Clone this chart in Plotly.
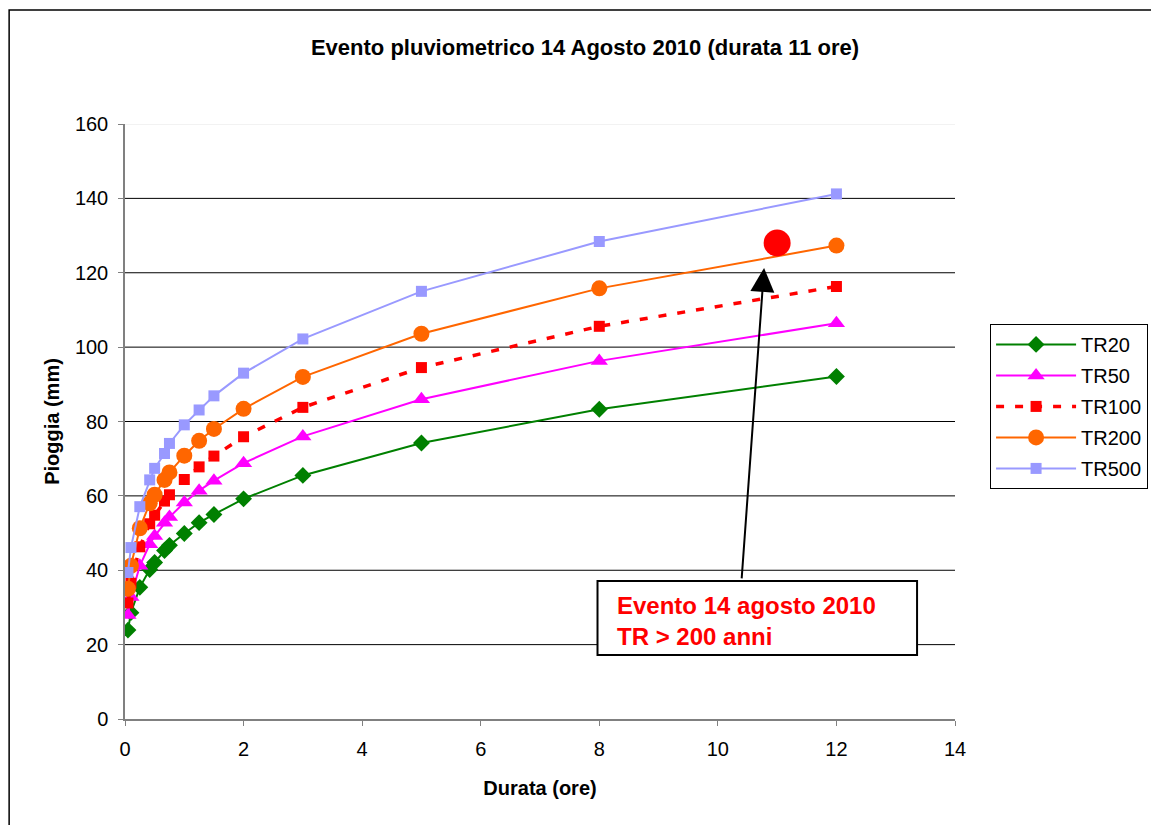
import plotly.graph_objects as go

# ---- data ----
durata = [0.05, 0.1, 0.25, 0.4167, 0.5, 0.6667, 0.75, 1, 1.25, 1.5, 2, 3, 5, 8, 12]
tr20 = [23.9, 28.6, 35.4, 40.2, 42.1, 45.3, 46.7, 49.9, 52.8, 55.0, 59.2, 65.5, 74.2, 83.3, 92.1]
tr50 = [28.0, 32.8, 41.2, 47.0, 49.2, 52.8, 54.3, 58.2, 61.4, 64.1, 68.8, 76.0, 86.0, 96.3, 106.4]
tr100 = [31.2, 36.5, 46.3, 52.5, 54.8, 58.6, 60.3, 64.4, 67.8, 70.7, 75.9, 83.8, 94.5, 105.6, 116.3]
tr200 = [35.0, 41.2, 51.3, 58.0, 60.3, 64.3, 66.3, 70.8, 74.8, 78.0, 83.4, 92.0, 103.6, 115.8, 127.3]
tr500 = [39.4, 46.1, 57.1, 64.3, 67.4, 71.4, 74.1, 79.1, 83.1, 86.9, 93.0, 102.2, 115.0, 128.4, 141.2]
evento_x = [11]
evento_y = [128]
y_ticks = [0, 20, 40, 60, 80, 100, 120, 140, 160]
x_ticks = [0, 2, 4, 6, 8, 10, 12, 14]

FONT = "Liberation Sans, Arial, sans-serif"

fig = go.Figure()

series = [
    ("TR20", tr20, "#008000", "solid", 2, "diamond", 13),
    ("TR50", tr50, "#FF00FF", "solid", 2, "triangle-up", 15),
    ("TR100", tr100, "#FF0000", "8px,11px", 3.5, "square", 11),
    ("TR200", tr200, "#FF6600", "solid", 2, "circle", 16),
    ("TR500", tr500, "#9999FF", "solid", 2, "square", 11),
]
for i, (name, vals, col, dash, lw, sym, ms) in enumerate(series):
    fig.add_trace(go.Scatter(
        x=durata, y=vals, name=name, mode="lines+markers", legendgroup="g%d" % i,
        line=dict(color=col, width=lw, dash=dash),
        marker=dict(symbol=sym, size=ms, color=col),
    ))

fig.add_trace(go.Scatter(
    x=evento_x, y=evento_y, mode="markers", showlegend=False,
    marker=dict(symbol="circle", size=27, color="#FF0000"),
))

shapes = []
for v in y_ticks[1:]:
    shapes.append(dict(type="line", xref="paper", x0=0, x1=1, yref="y", y0=v, y1=v,
                       line=dict(color="#000000" if v < 160 else "#E6E6E6", width=1),
                       layer="below"))
# annotation box
shapes.append(dict(type="rect", xref="x", yref="y", x0=7.97, x1=13.36, y0=17.2, y1=37.1,
                   fillcolor="white", line=dict(color="black", width=2), layer="above"))
# outer chart frame
shapes.append(dict(type="rect", xref="paper", yref="paper", x0=-0.1396, x1=1.27, y0=-0.22, y1=1.1916,
                   line=dict(color="black", width=1.5), fillcolor="rgba(0,0,0,0)", layer="below"))

fig.update_layout(
    width=1151, height=817,
    margin=dict(l=117, r=203, t=116, b=106),
    paper_bgcolor="white", plot_bgcolor="white",
    font=dict(family=FONT, size=20, color="black"),
    title=dict(text="<b>Evento pluviometrico 14 Agosto 2010 (durata 11 ore)</b>",
               x=577 / 1151, xanchor="center", y=1 - 39 / 817, yanchor="middle",
               font=dict(size=22)),
    shapes=shapes,
    showlegend=True,
    legend=dict(x=1.041, y=0.664, xanchor="left", yanchor="top",
                bordercolor="black", borderwidth=1, bgcolor="white",
                font=dict(size=20), itemwidth=80, tracegroupgap=2),
    xaxis=dict(range=[0, 14], tickvals=x_ticks, ticktext=[str(t) for t in x_ticks],
               showgrid=False, zeroline=False, showline=True, linecolor="#808080", linewidth=1.5,
               ticks="outside", ticklen=5, tickcolor="#808080", ticklabelstandoff=6,
               title=dict(text="<b>Durata (ore)</b>", standoff=22, font=dict(size=20))),
    yaxis=dict(range=[0, 160], tickvals=y_ticks, ticktext=[str(t) for t in y_ticks],
               showgrid=False, zeroline=False, showline=True, linecolor="#808080", linewidth=1.5,
               ticks="outside", ticklen=5, tickcolor="#808080", ticklabelstandoff=6,
               title=dict(text="<b>Pioggia (mm)</b>", standoff=10, font=dict(size=20))),
)

fig.add_annotation(x=10.78, y=121.3, ax=10.40, ay=37.4, xref="x", yref="y", axref="x", ayref="y",
                   showarrow=True, arrowhead=2, arrowsize=2.4, arrowwidth=2, arrowcolor="black", text="")
fig.add_annotation(x=8.26, y=26.4, xref="x", yref="y", xanchor="left", yanchor="middle", align="left",
                   showarrow=False,
                   text="<b>Evento 14 agosto 2010<br>TR > 200 anni</b>",
                   font=dict(color="#FF0000", size=24, family=FONT))

fig.write_html("out.html")
